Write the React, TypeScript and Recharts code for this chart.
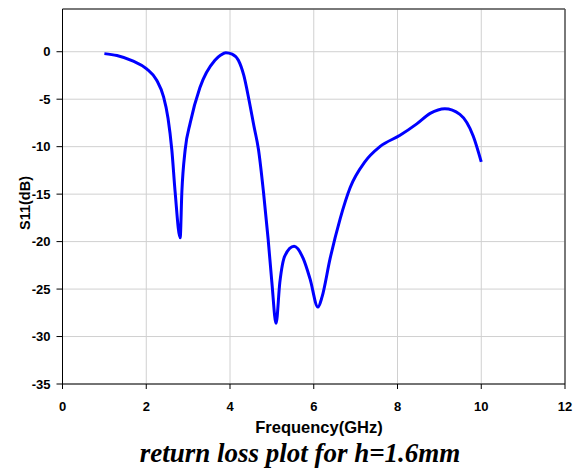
import { LineChart, Line, XAxis, YAxis, CartesianGrid, ReferenceLine, Label } from "recharts";

const freqGHz = [
  1.0, 1.3, 1.69, 2.01, 2.25, 2.41, 2.52, 2.61, 2.69, 2.81, 2.85, 2.93, 3.05, 3.28, 3.64, 3.78, 3.9,
  4.05, 4.2, 4.33, 4.45, 4.57, 4.68, 4.8, 4.91, 5.0, 5.1, 5.19, 5.31, 5.53, 5.75, 5.91, 6.1, 6.2, 6.39, 6.63,
  6.87, 7.22, 7.58, 8.06, 8.46, 8.78, 9.13, 9.49, 9.81, 10.0,
];
const s11dB = [
  -0.2, -0.4, -1.0, -1.8, -3.0, -4.7, -7.0, -10.3, -14.8, -19.6, -14.8, -10.3, -7.5, -3.8, -0.9, -0.35, -0.1,
  -0.25, -0.9, -2.5, -5.0, -7.8, -10.3, -14.8, -19.7, -24.3, -28.6, -24.3, -21.5, -20.5, -21.8, -23.9, -26.9, -25.8, -21.8, -17.6,
  -14.3, -11.6, -10.0, -8.8, -7.6, -6.5, -6.0, -6.6, -8.9, -11.6,
];
const xTicks = [0, 2, 4, 6, 8, 10, 12];
const yTicks = [0, -5, -10, -15, -20, -25, -30, -35];

const data = freqGHz.map((f, i) => ({ f, s11: s11dB[i] }));

const sans = "'Liberation Sans', Arial, sans-serif";
const tickStyle = { fill: "#000", fontSize: 13, fontWeight: 700, fontFamily: sans };

export default function App() {
  return (
    <div style={{ position: "absolute", left: 0, top: 0, width: 574, height: 470, background: "#fff" }}>
      <LineChart width={574} height={470} data={data} margin={{ top: 9, right: 9, left: 0, bottom: 0 }}>
        <CartesianGrid stroke="#d0d0d0" strokeWidth={1} />
        <XAxis
          dataKey="f"
          type="number"
          domain={[0, 12]}
          ticks={xTicks}
          height={86}
          stroke="#000"
          tickSize={5}
          tickMargin={13}
          tick={tickStyle}
        >
          <Label
            content={() => (
              <text x={319} y={433} textAnchor="middle" fontSize={16.5} fontWeight={700} fontFamily={sans} fill="#000">
                Frequency(GHz)
              </text>
            )}
          />
        </XAxis>
        <YAxis
          type="number"
          domain={[-35, 4.5]}
          ticks={yTicks}
          width={62.5}
          stroke="#000"
          tickSize={6}
          tickMargin={6}
          tick={tickStyle}
        >
          <Label
            content={() => (
              <text
                x={0}
                y={0}
                transform="translate(30,203) rotate(-90)"
                textAnchor="middle"
                fontSize={14.5}
                fontWeight={700}
                fontFamily={sans}
                fill="#000"
              >
                S11(dB)
              </text>
            )}
          />
        </YAxis>
        <ReferenceLine y={4.5} stroke="#555" strokeWidth={1.5} />
        <ReferenceLine x={12} stroke="#555" strokeWidth={1.5} />
        <Line
          type="monotone"
          dataKey="s11"
          stroke="#0000ff"
          strokeWidth={3}
          dot={false}
          isAnimationActive={false}
        />
      </LineChart>
      <div
        style={{
          position: "absolute",
          left: 0,
          top: 437,
          width: 600,
          textAlign: "center",
          fontFamily: "'Liberation Serif', 'Times New Roman', serif",
          fontStyle: "italic",
          fontWeight: 700,
          fontSize: 27,
          lineHeight: "32px",
          color: "#000",
        }}
      >
        return loss plot for h=1.6mm
      </div>
    </div>
  );
}
